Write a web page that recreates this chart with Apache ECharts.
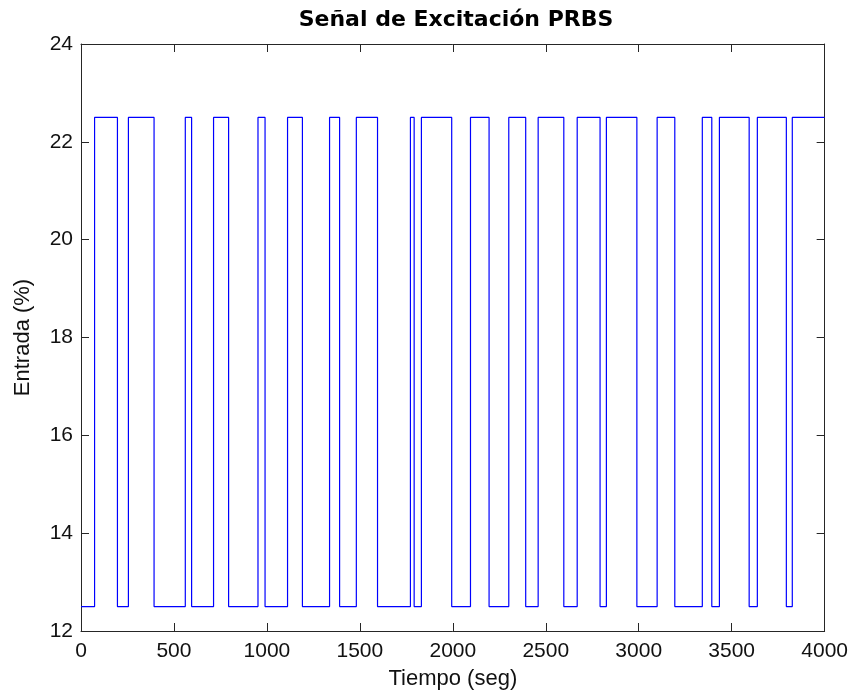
<!DOCTYPE html>
<html>
<head>
<meta charset="utf-8">
<title>Señal de Excitación PRBS</title>
<script src="https://cdn.jsdelivr.net/npm/echarts@6/dist/echarts.min.js"></script>
<style>
  html, body { margin: 0; padding: 0; background: #fff; }
  #chart { width: 851px; height: 695px; }
</style>
</head>
<body>
<div id="chart"></div>
<script>
// instantes de conmutacion de la PRBS (seg) y nivel que toma la entrada desde ese instante
var tiempo = [0, 73, 196, 255, 393, 561, 595, 713, 794, 952, 990,
  1111, 1191, 1337, 1391, 1481, 1595, 1772, 1792, 1831, 1994,
  2095, 2195, 2301, 2392, 2459, 2597, 2669, 2792, 2826, 2990,
  3099, 3194, 3342, 3393, 3434, 3594, 3638, 3794, 3826, 4000];
var entrada = [12.5, 22.5, 12.5, 22.5, 12.5, 22.5, 12.5, 22.5, 12.5, 22.5, 12.5,
  22.5, 12.5, 22.5, 12.5, 22.5, 12.5, 22.5, 12.5, 22.5, 12.5,
  22.5, 12.5, 22.5, 12.5, 22.5, 12.5, 22.5, 12.5, 22.5, 12.5,
  22.5, 12.5, 22.5, 12.5, 22.5, 12.5, 22.5, 12.5, 22.5, 22.5];

var xTicks = { min: 0, max: 4000, interval: 500 };
var yTicks = { min: 12, max: 24, interval: 2 };

var FONT = "'Liberation Sans', Arial, sans-serif";
var AX = '#262626';

var data = tiempo.map(function (t, i) { return [t, entrada[i]]; });

var chart = echarts.init(document.getElementById('chart'));

function baseAxis(extra) {
  var a = {
    type: 'value',
    axisLine: { show: true, onZero: false, lineStyle: { color: AX, width: 1 } },
    axisTick: { show: true, inside: true, length: 8, lineStyle: { color: AX } },
    splitLine: { show: false },
    axisLabel: { color: '#111', fontFamily: FONT, fontSize: 21 }
  };
  for (var k in extra) a[k] = extra[k];
  return a;
}

var option = {
  animation: false,
  backgroundColor: '#fff',
  title: {
    text: 'Señal de Excitación PRBS',
    left: 451,
    textAlign: 'center',
    top: 4,
    textStyle: { fontFamily: "'DejaVu Sans', sans-serif", fontSize: 22, fontWeight: 'bold', color: '#000' }
  },
  grid: { left: 81, right: 26, top: 44, bottom: 64, containLabel: false },
  xAxis: [
    baseAxis({
      position: 'bottom', min: xTicks.min, max: xTicks.max, interval: xTicks.interval,
      name: 'Tiempo (seg)', nameLocation: 'middle', nameGap: 37,
      nameTextStyle: { fontFamily: FONT, fontSize: 22, color: '#111' },
      axisLabel: {
        color: '#111', fontFamily: FONT, fontSize: 21, margin: 10,
        formatter: function (v) { return String(v); }
      }
    }),
    baseAxis({
      position: 'top', min: xTicks.min, max: xTicks.max, interval: xTicks.interval,
      axisLabel: { show: false }
    })
  ],
  yAxis: [
    baseAxis({
      position: 'left', min: yTicks.min, max: yTicks.max, interval: yTicks.interval,
      name: 'Entrada (%)', nameLocation: 'middle', nameGap: 47,
      nameTextStyle: { fontFamily: FONT, fontSize: 22, color: '#111' },
      axisLabel: { color: '#111', fontFamily: FONT, fontSize: 21, margin: 8 }
    }),
    baseAxis({
      position: 'right', min: yTicks.min, max: yTicks.max, interval: yTicks.interval,
      axisLabel: { show: false }
    })
  ],
  series: [{
    type: 'line',
    step: 'end',
    data: data,
    xAxisIndex: 0,
    yAxisIndex: 0,
    showSymbol: false,
    symbol: 'none',
    lineStyle: { color: '#0000ff', width: 1.2 }
  }]
};

chart.setOption(option);
</script>
</body>
</html>
